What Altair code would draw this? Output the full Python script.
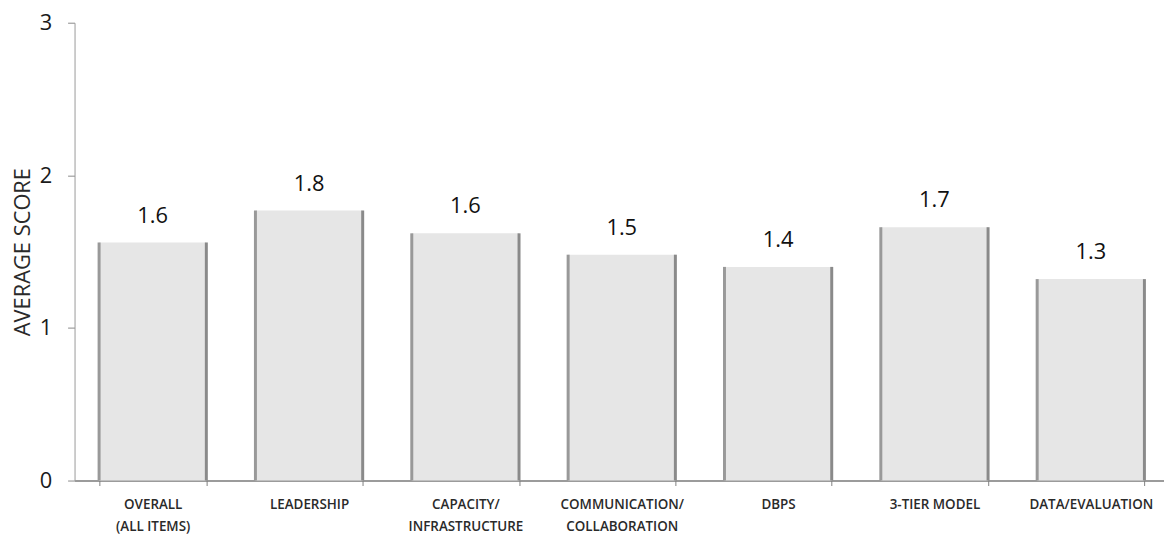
import altair as alt
import pandas as pd

categories = [
    "OVERALL\n(ALL ITEMS)",
    "LEADERSHIP",
    "CAPACITY/\nINFRASTRUCTURE",
    "COMMUNICATION/\nCOLLABORATION",
    "DBPS",
    "3-TIER MODEL",
    "DATA/EVALUATION",
]
scores = [1.56, 1.77, 1.62, 1.48, 1.40, 1.66, 1.32]
score_labels = ["1.6", "1.8", "1.6", "1.5", "1.4", "1.7", "1.3"]
y_ticks = [0, 1, 2, 3]

df = pd.DataFrame({"cat": categories, "score": scores, "lab": score_labels})

FONT = "Open Sans"

x_scale = alt.Scale(paddingInner=0.314, paddingOuter=0.157, range=[0, 1102])
y_scale = alt.Scale(domain=[0, 3], nice=False)

x_enc = alt.X(
    "cat:N",
    sort=categories,
    scale=x_scale,
    axis=alt.Axis(
        title=None,
        labelAngle=0,
        labelExpr="split(datum.label, '\\n')",
        labelFont=FONT,
        labelFontSize=13.5,
        labelFontWeight=600,
        labelColor="#2a2a2a",
        labelLineHeight=22,
        labelPadding=12,
        labelBaseline="top",
        labelLimit=200,
        tickSize=5,
        tickColor="#808080",
        tickBand="extent",
        domainColor="#7a7a7a",
        domainWidth=1.5,
    ),
)

y_enc = alt.Y(
    "score:Q",
    scale=y_scale,
    axis=alt.Axis(
        title="AVERAGE SCORE",
        values=y_ticks,
        format="d",
        grid=False,
        labelFont=FONT,
        labelFontSize=22,
        labelColor="#1a1a1a",
        labelPadding=16,
        tickSize=7,
        tickColor="#8a8a8a",
        domainColor="#9a9a9a",
        titleFont=FONT,
        titleFontSize=22,
        titleFontWeight="normal",
        titleColor="#2a2a2a",
        titlePadding=5,
    ),
)

base = alt.Chart(df)

bars = base.mark_bar(color="#e6e6e6").encode(x=x_enc, y=y_enc)

left_edge = base.mark_rule(color="#999999", strokeWidth=3).encode(
    x=alt.X("cat:N", sort=categories, bandPosition=0),
    y=alt.Y("score:Q"),
    y2=alt.datum(0),
)
right_edge = base.mark_rule(color="#8a8a8a", strokeWidth=3).encode(
    x=alt.X("cat:N", sort=categories, bandPosition=1),
    y=alt.Y("score:Q"),
    y2=alt.datum(0),
)

text = base.mark_text(
    font=FONT, fontSize=22, color="#111111", baseline="middle", dy=-27
).encode(
    x=alt.X("cat:N", sort=categories),
    y=alt.Y("score:Q"),
    text="lab:N",
)

chart = (
    alt.layer(bars, left_edge, right_edge, text)
    .properties(
        width=1097,
        height=461,
        autosize=alt.AutoSizeParams(type="none"),
        padding={"left": 67, "top": 13, "right": 0, "bottom": 52},
    )
    .configure_view(stroke=None)
)

chart.save("out.html", embed_options={"renderer": "svg", "actions": False})
